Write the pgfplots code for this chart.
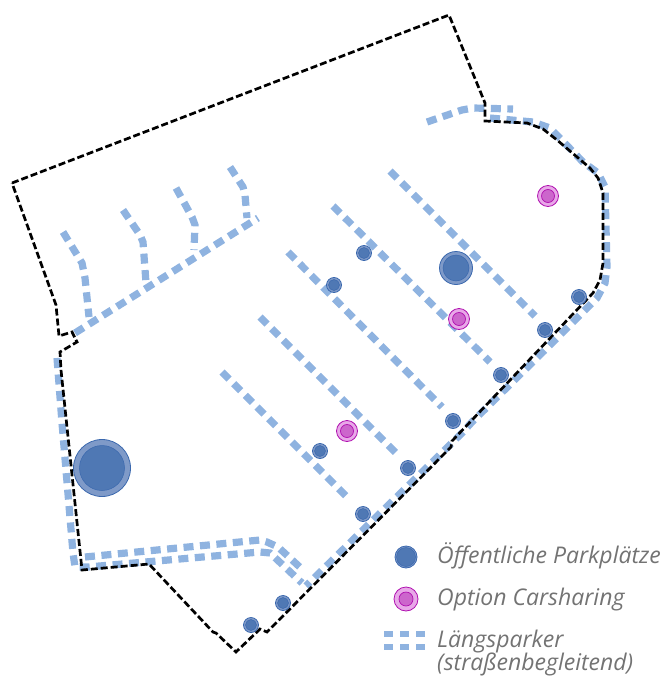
\documentclass[border=0pt]{standalone}
\usepackage{fontspec}
\setmainfont{Open Sans}
\usepackage{pgfplots}
\pgfplotsset{compat=1.18}
\definecolor{park}{HTML}{8FB3E0}
\definecolor{bedge}{HTML}{3A68AE}
\definecolor{bring}{HTML}{7F9AC8}
\definecolor{bfill}{HTML}{4F78B4}
\definecolor{pedge}{HTML}{B010B0}
\definecolor{pring}{HTML}{E8A8E8}
\definecolor{pfill}{HTML}{CC66CC}
\definecolor{labelgray}{HTML}{737373}
\pgfplotsset{
  parker/.style={no marks, color=park, line width=7.2pt, dash pattern=on 10pt off 6.5pt},
  grenze/.style={no marks, color=black, line width=2.7pt, dash pattern=on 7pt off 3pt},
  blue ring/.style={only marks, mark=*, mark size=#1, mark options={draw=bedge, line width=0.8pt, fill=bring}},
  blue core/.style={only marks, mark=*, mark size=#1, mark options={draw=bedge, line width=0.5pt, fill=bfill}},
  pink ring/.style={only marks, mark=*, mark size=#1, mark options={draw=pedge, line width=0.8pt, fill=pring}},
  pink core/.style={only marks, mark=*, mark size=#1, mark options={draw=pedge, line width=0.7pt, fill=pfill}},
}
\tikzset{legtext/.style={anchor=west, text=labelgray, font=\fontsize{23}{26}\selectfont\itshape, inner sep=0pt}}
\begin{document}
\begin{tikzpicture}
\useasboundingbox (0,0) rectangle (662pt,677pt);
\begin{axis}[
  at={(0,0)}, anchor=south west,
  scale only axis, width=662pt, height=677pt,
  xmin=0, xmax=662, ymin=0, ymax=677, y dir=reverse,
  hide axis
]
% Laengsparker
\addplot[parker] coordinates {(63,232) (82,263) (85,278) (89,317)};
\addplot[parker] coordinates {(123,210) (140,235) (143,242) (146,283)};
\addplot[parker] coordinates {(176,188) (192,217) (195,225) (194,250)};
\addplot[parker] coordinates {(230,167) (243,187) (245,195) (247,218)};
\addplot[parker] coordinates {(75,333) (258,218)};
\addplot[parker] coordinates {(222,372) (348,498)};
\addplot[parker] coordinates {(260,317) (396,453)};
\addplot[parker] coordinates {(288,252) (442,407)};
\addplot[parker] coordinates {(333,206) (490,362)};
\addplot[parker] coordinates {(390,171) (535,316)};
\addplot[parker] coordinates {(427,122) (462,110) (473,108) (513,109)};
\addplot[parker] coordinates {(490,118) (533,122) (550,128) (583,162) (598,173) (605,187) (607,267) (605,283) (597,298) (585,310) (552,343) (472,422) (462,433) (370,523) (306,586)};
\addplot[parker] coordinates {(85,557) (260,540) (267,542) (278,547) (303,570)};
\addplot[parker] coordinates {(57,358) (62,423) (73,553) (75,567) (88,567) (260,552) (270,553) (302,583)};
% Grenze
\addplot[grenze] coordinates {(12,183) (449,15) (485,103) (485,121) (527,123) (543,129) (557,140) (590,168) (598,178) (603,193) (603,263) (600,280) (593,293) (452,441) (451,447) (267,632) (260,629) (236,652) (216,633) (213,632) (149,564) (82,570) (61,370) (60,352) (77,342) (72,332) (59,336) (56,305) (12,183)};
% Oeffentliche Parkplaetze
\addplot[blue ring=7.5] coordinates {(364,253) (334,285) (501,375) (545,330) (579,297) (453,421) (408,468) (320,451) (363,514) (283,603) (251,625)};
\addplot[blue core=5.5] coordinates {(364,253) (334,285) (501,375) (545,330) (579,297) (453,421) (408,468) (320,451) (363,514) (283,603) (251,625)};
\addplot[blue ring=16.5] coordinates {(456,268)};
\addplot[blue core=13] coordinates {(456,268)};
\addplot[blue ring=28.5] coordinates {(102,468)};
\addplot[blue core=22.5] coordinates {(102,468)};
% Option Carsharing
\addplot[pink ring=10.5] coordinates {(548,196) (459,319) (347,431)};
\addplot[pink core=6.5] coordinates {(548,196) (459,319) (347,431)};
% Legende
\addplot[blue ring=11] coordinates {(406,557)};
\addplot[blue core=9.5] coordinates {(406,557)};
\addplot[pink ring=12] coordinates {(406,599)};
\addplot[pink core=7] coordinates {(406,599)};
\addplot[parker, line width=6.5pt, dash pattern=on 9.3pt off 6.7pt] coordinates {(384,634) (426,634)};
\addplot[parker, line width=6.5pt, dash pattern=on 9.3pt off 6.7pt] coordinates {(384,647) (426,647)};
\node[legtext] at (axis cs:437,556) {Öffentliche Parkplätze};
\node[legtext] at (axis cs:437,600) {Option Carsharing};
\node[legtext] at (axis cs:437,642) {Längsparker};
\node[legtext] at (axis cs:437,664) {(straßenbegleitend)};
\end{axis}
\end{tikzpicture}
\end{document}
